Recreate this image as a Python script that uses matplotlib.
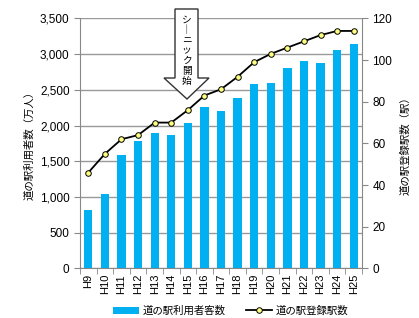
import numpy as np
import matplotlib.pyplot as plt
from matplotlib.patches import Polygon
from matplotlib.ticker import FuncFormatter

plt.rcParams['font.family'] = ['Liberation Sans', 'Noto Sans CJK JP']

years = ["H9", "H10", "H11", "H12", "H13", "H14", "H15", "H16", "H17",
         "H18", "H19", "H20", "H21", "H22", "H23", "H24", "H25"]
users = [815, 1045, 1590, 1785, 1890, 1870, 2035, 2255, 2200,
         2390, 2585, 2595, 2800, 2900, 2875, 3060, 3145]
stations = [46, 55, 62, 64, 70, 70, 76, 83, 86,
            92, 99, 103, 106, 109, 112, 114, 114]
note = "シ｜ニック開始"

fig = plt.figure(figsize=(4.19, 3.18), dpi=100)
ax = fig.add_axes([0.191, 0.156, 0.673, 0.786])
x = np.arange(len(years))

ax.bar(x, users, width=0.5, color="#00B0F0", label="道の駅利用者客数", zorder=2)
ax.set_ylim(0, 3500)
ax.set_xlim(-0.5, len(years) - 0.5)
ax.set_yticks(range(0, 3501, 500))
ax.yaxis.set_major_formatter(FuncFormatter(lambda v, p: f"{int(v):,}"))
ax.grid(axis="y", color="#999999", linewidth=1, zorder=0)
ax.set_xticks(x)
ax.set_xticklabels(years, rotation=90)
ax.set_xticks(np.arange(-0.5, len(years)), minor=True)
ax.tick_params(axis="x", which="major", length=0, labelsize=8, pad=4)
ax.tick_params(axis="x", which="minor", length=4, color="#888888")
ax.tick_params(axis="y", length=4, color="#888888", labelsize=8.5)
for s in ["top", "right"]:
    ax.spines[s].set_visible(False)
for s in ["left", "bottom"]:
    ax.spines[s].set_color("#888888")
ax.set_ylabel("道の駅利用者数（万人）", fontsize=7.5, labelpad=4)

ax2 = ax.twinx()
ax2.plot(x, stations, color="black", linewidth=1.3, marker="o", markersize=4,
         markerfacecolor="#FFFF80", markeredgecolor="black", markeredgewidth=0.7,
         label="道の駅登録駅数", zorder=3)
ax2.set_ylim(0, 120)
ax2.set_yticks(range(0, 121, 20))
ax2.tick_params(axis="y", length=4, color="#888888", labelsize=8.5)
for s in ["top", "left", "bottom"]:
    ax2.spines[s].set_visible(False)
ax2.spines["right"].set_color("#888888")
ax2.set_ylabel("道の駅登録駅数（駅）", fontsize=7.5, labelpad=6)

# annotation arrow (pixel outline of the callout)
pts = np.array([(175, 9), (198, 9), (198, 78), (209, 78), (187, 99),
                (164, 78), (175, 78)], dtype=float)
pts[:, 1] = 318 - pts[:, 1]
arrow = Polygon(pts / 100.0, closed=True, transform=fig.dpi_scale_trans,
                facecolor="white", edgecolor="#333333", linewidth=1, zorder=5)
fig.patches.append(arrow)
for i, ch in enumerate(note):
    fig.text(186.5 / 419, 1 - (20 + i * 10.2) / 318, ch, ha="center",
             va="center", fontsize=7, zorder=6)

h1, l1 = ax.get_legend_handles_labels()
h2, l2 = ax2.get_legend_handles_labels()
fig.legend(h1 + h2, l1 + l2, loc="center", bbox_to_anchor=(0.55, 0.022),
           ncol=2, frameon=False, fontsize=7.5, handlelength=2.5,
           columnspacing=2.0, handletextpad=0.3)

fig.savefig("out.png", dpi=100)
